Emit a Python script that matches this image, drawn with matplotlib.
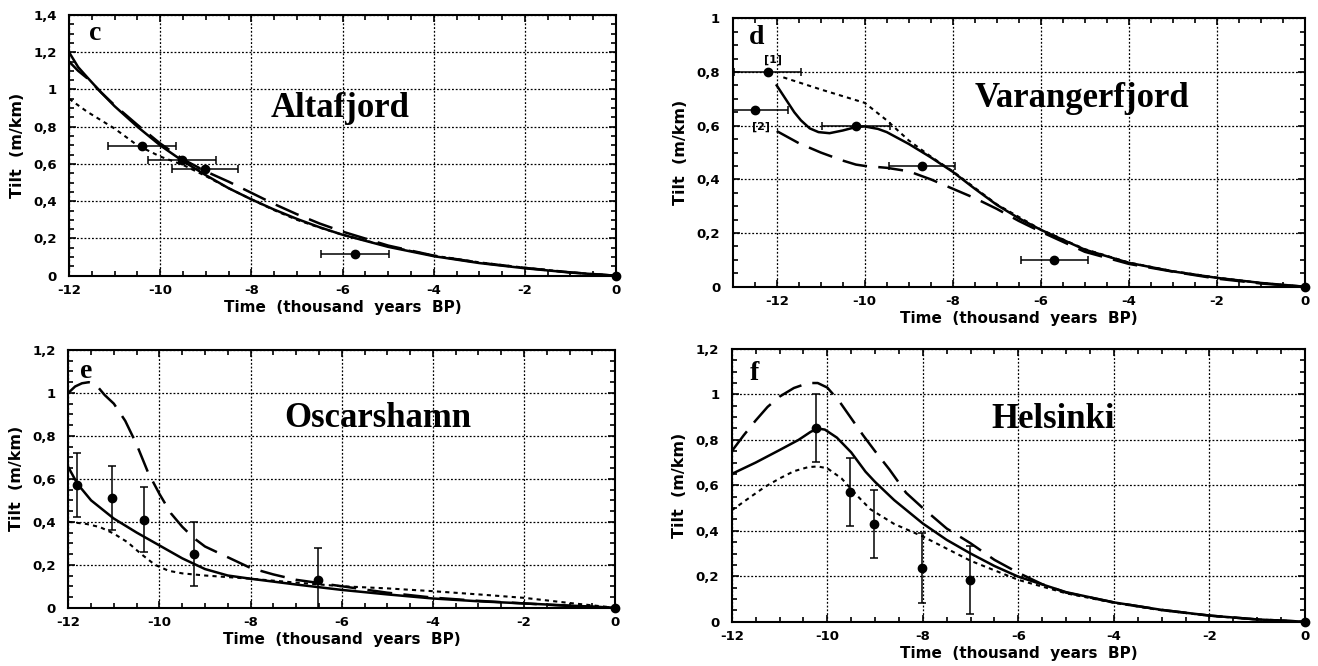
import matplotlib
matplotlib.use("Agg")
import matplotlib.pyplot as plt
from matplotlib.ticker import MultipleLocator, FuncFormatter

plt.rcParams["axes.unicode_minus"] = False

# ---------------------------------------------------------------------------
# Panel c -- Altafjord
# ---------------------------------------------------------------------------
C_T = [-12, -11.8, -11.6, -11.3, -11, -10.5, -10, -9.5, -9, -8.5, -8, -7.5,
       -7, -6.5, -6, -5, -4, -3, -2, -1, 0]
C_SOLID = [1.20, 1.12, 1.065, 0.985, 0.91, 0.80, 0.70, 0.615, 0.54, 0.47,
           0.41, 0.355, 0.305, 0.26, 0.22, 0.155, 0.105, 0.068, 0.04, 0.017, 0]
C_LONG = [1.15, 1.10, 1.06, 0.985, 0.915, 0.81, 0.71, 0.625, 0.56, 0.505,
          0.445, 0.385, 0.33, 0.28, 0.237, 0.162, 0.108, 0.07, 0.042, 0.018, 0]
C_SHORT = [0.95, 0.915, 0.88, 0.835, 0.79, 0.70, 0.64, 0.595, 0.535, 0.47,
           0.41, 0.352, 0.30, 0.258, 0.22, 0.158, 0.108, 0.072, 0.043, 0.018, 0]
C_PTS_X = [-10.4, -9.52, -9.02, -5.72]
C_PTS_Y = [0.695, 0.62, 0.571, 0.117]
C_XERR = [0.74, 0.74, 0.73, 0.75]

# ---------------------------------------------------------------------------
# Panel d -- Varangerfjord
# ---------------------------------------------------------------------------
D_SOLID_T = [-12, -11.8, -11.6, -11.45, -11.25, -11.05, -10.8, -10.5, -10.2,
             -10, -9.7, -9.5, -9, -8.5, -8, -7.5, -7, -6.5, -6, -5, -4, -3,
             -2, -1, 0]
D_SOLID = [0.75, 0.70, 0.65, 0.62, 0.59, 0.576, 0.572, 0.582, 0.595, 0.597,
           0.588, 0.576, 0.532, 0.482, 0.428, 0.365, 0.305, 0.255, 0.212,
           0.138, 0.089, 0.057, 0.033, 0.014, 0]
D_SHORT_T = [-11.85, -11, -10.5, -10, -9.5, -9, -8.5, -8, -7, -6, -5, -4, -3,
             -2, -1, 0]
D_SHORT = [0.78, 0.735, 0.71, 0.685, 0.62, 0.545, 0.485, 0.43, 0.307, 0.213,
           0.14, 0.09, 0.058, 0.034, 0.014, 0]
D_LONG_T = [-12, -11.5, -11, -10.5, -10.2, -10, -9.5, -9, -8.5, -8, -7.5, -7,
            -6.5, -6, -5, -4, -3, -2, -1, 0]
D_LONG = [0.58, 0.535, 0.50, 0.47, 0.455, 0.45, 0.443, 0.43, 0.40, 0.365,
          0.33, 0.29, 0.245, 0.205, 0.13, 0.085, 0.056, 0.03, 0.012, 0]
D_PTS_X = [-12.2, -12.5, -10.19, -8.70, -5.69]
D_PTS_Y = [0.80, 0.66, 0.60, 0.449, 0.099]
D_XERR = [0.76, 0.75, 0.77, 0.75, 0.76]

# ---------------------------------------------------------------------------
# Panel e -- Oscarshamn
# ---------------------------------------------------------------------------
E_SOLID_T = [-12, -11.8, -11.5, -11, -10.5, -10, -9.5, -9, -8.5, -8, -7, -6,
             -5, -4, -3, -2, -1, 0]
E_SOLID = [0.655, 0.577, 0.50, 0.415, 0.35, 0.29, 0.23, 0.18, 0.15, 0.135,
           0.108, 0.083, 0.062, 0.043, 0.03, 0.02, 0.01, 0]
E_SHORT_T = [-12, -11.6, -11.3, -11, -10.7, -10.4, -10.1, -9.8, -9.5, -9, -8,
             -7, -6, -5, -4, -3, -2, -1, 0]
E_SHORT = [0.40, 0.39, 0.375, 0.345, 0.305, 0.25, 0.20, 0.172, 0.16, 0.15,
           0.135, 0.117, 0.10, 0.09, 0.077, 0.062, 0.046, 0.022, 0]
E_LONG_T = [-12, -11.85, -11.7, -11.55, -11.4, -11.2, -11, -10.75, -10.5,
            -10.25, -10, -9.75, -9.5, -9.25, -9, -8.5, -8, -7.5, -7, -6, -5,
            -4, -3, -2, -1, 0]
E_LONG = [1.0, 1.03, 1.045, 1.05, 1.04, 0.99, 0.95, 0.87, 0.76, 0.63, 0.53,
          0.44, 0.377, 0.325, 0.285, 0.235, 0.185, 0.155, 0.13, 0.10, 0.07,
          0.047, 0.032, 0.02, 0.008, 0]
E_PTS_X = [-11.81, -11.03, -10.33, -9.24, -6.53]
E_PTS_Y = [0.572, 0.51, 0.41, 0.25, 0.13]
E_YERR = [0.15, 0.15, 0.15, 0.15, 0.15]

# ---------------------------------------------------------------------------
# Panel f -- Helsinki
# ---------------------------------------------------------------------------
F_SOLID_T = [-12, -11.5, -11, -10.6, -10.35, -10.2, -10.05, -9.8, -9.5, -9.2,
             -9, -8.6, -8, -7.5, -7, -6.5, -6, -5, -4, -3, -2, -1, 0]
F_SOLID = [0.65, 0.70, 0.755, 0.80, 0.835, 0.85, 0.845, 0.81, 0.745, 0.66,
           0.615, 0.535, 0.432, 0.36, 0.30, 0.245, 0.198, 0.13, 0.085, 0.052,
           0.027, 0.01, 0]
F_SHORT_T = [-12, -11.6, -11.3, -11, -10.7, -10.4, -10.2, -10, -9.7, -9.4,
             -9.1, -8.6, -8, -7, -6, -5, -4, -3, -2, -1, 0]
F_SHORT = [0.49, 0.55, 0.594, 0.63, 0.662, 0.68, 0.683, 0.675, 0.63, 0.56,
           0.495, 0.43, 0.375, 0.268, 0.184, 0.125, 0.083, 0.05, 0.026, 0.01, 0]
F_LONG_T = [-12, -11.75, -11.5, -11.25, -11, -10.7, -10.4, -10.2, -10, -9.75,
            -9.5, -9.25, -9, -8.7, -8.35, -8, -7.5, -7, -6.5, -6, -5.5, -5,
            -4, -3, -2, -1, 0]
F_LONG = [0.75, 0.82, 0.885, 0.945, 0.99, 1.028, 1.05, 1.05, 1.03, 0.97,
          0.895, 0.82, 0.75, 0.67, 0.567, 0.50, 0.41, 0.345, 0.272, 0.215,
          0.165, 0.128, 0.085, 0.052, 0.027, 0.01, 0]
F_PTS_X = [-10.23, -9.52, -9.02, -8.01, -7.01]
F_PTS_Y = [0.851, 0.571, 0.429, 0.237, 0.184]
F_YERR = [0.15, 0.15, 0.15, 0.155, 0.15]

SANS = "DejaVu Sans"
SERIF = "Liberation Serif"


def comma_fmt(v, pos):
    s = f"{v:.1f}".rstrip("0").rstrip(".")
    return s.replace(".", ",")


def style_axes(ax, xmin, ymax):
    ax.set_xlim(xmin, 0)
    ax.set_ylim(0, ymax)
    ax.xaxis.set_major_locator(MultipleLocator(2))
    ax.xaxis.set_minor_locator(MultipleLocator(0.5))
    ax.yaxis.set_major_locator(MultipleLocator(0.2))
    ax.yaxis.set_minor_locator(MultipleLocator(0.05))
    ax.yaxis.set_major_formatter(FuncFormatter(comma_fmt))
    ax.tick_params(which="both", direction="in", top=True, right=True,
                   width=1.2, labelsize=9.5)
    ax.tick_params(which="major", length=5)
    ax.tick_params(which="minor", length=3.5)
    ax.tick_params(axis="x", which="major", pad=6)
    ax.tick_params(axis="y", which="major", pad=9)
    for lab in ax.get_xticklabels() + ax.get_yticklabels():
        lab.set_fontweight("bold")
        lab.set_fontfamily(SANS)
    for sp in ax.spines.values():
        sp.set_linewidth(1.5)
    ax.grid(which="major", color="black", ls=(0, (1.5, 1.5)), lw=0.9)
    ax.set_xlabel("Time  (thousand  years  BP)", fontsize=11,
                  fontweight="bold", family=SANS, labelpad=2)
    ax.set_ylabel("Tilt  (m/km)", fontsize=11.5, fontweight="bold",
                  family=SANS, labelpad=6)


def draw_curves(ax, solid, short, long_):
    ax.plot(*solid, color="black", lw=1.8, zorder=3)
    ax.plot(*short, color="black", lw=1.5, ls=(0, (2, 2)), zorder=3)
    ax.plot(*long_, color="black", lw=1.8, ls=(0, (10, 4.5)), zorder=3)
    ax.plot([0], [0], "o", color="black", ms=6, clip_on=False, zorder=5)


def labels(ax, letter, name, lpos, npos):
    ax.text(*lpos, letter, transform=ax.transAxes, fontsize=20,
            fontweight="bold", family=SERIF, ha="center", va="center")
    ax.text(*npos, name, transform=ax.transAxes, fontsize=25,
            fontweight="bold", family=SERIF, ha="center", va="center")


fig = plt.figure(figsize=(13.18, 6.66), dpi=100)
ax_c = fig.add_axes([0.0524, 0.586, 0.415, 0.3915])
ax_d = fig.add_axes([0.5559, 0.5695, 0.4342, 0.403])
ax_e = fig.add_axes([0.0518, 0.0875, 0.415, 0.387])
ax_f = fig.add_axes([0.5552, 0.0665, 0.4349, 0.4096])

err_kw = dict(fmt="o", color="black", ms=6, elinewidth=1.1, capsize=3,
              capthick=1.1, zorder=4)

# c
draw_curves(ax_c, (C_T, C_SOLID), (C_T, C_SHORT), (C_T, C_LONG))
ax_c.errorbar(C_PTS_X, C_PTS_Y, xerr=C_XERR, **err_kw)
style_axes(ax_c, -12, 1.4)
labels(ax_c, "c", "Altafjord", (0.047, 0.93), (0.495, 0.643))

# d
draw_curves(ax_d, (D_SOLID_T, D_SOLID), (D_SHORT_T, D_SHORT),
            (D_LONG_T, D_LONG))
ax_d.errorbar(D_PTS_X, D_PTS_Y, xerr=D_XERR, **err_kw)
ax_d.text(-12.08, 0.845, "[1]", fontsize=8, fontweight="bold", family=SANS,
          ha="center", va="center")
ax_d.text(-12.36, 0.595, "[2]", fontsize=8, fontweight="bold", family=SANS,
          ha="center", va="center")
style_axes(ax_d, -13, 1.0)
labels(ax_d, "d", "Varangerfjord", (0.042, 0.93), (0.61, 0.70))

# e
draw_curves(ax_e, (E_SOLID_T, E_SOLID), (E_SHORT_T, E_SHORT),
            (E_LONG_T, E_LONG))
ax_e.errorbar(E_PTS_X, E_PTS_Y, yerr=E_YERR, **err_kw)
style_axes(ax_e, -12, 1.2)
labels(ax_e, "e", "Oscarshamn", (0.032, 0.915), (0.565, 0.735))

# f
draw_curves(ax_f, (F_SOLID_T, F_SOLID), (F_SHORT_T, F_SHORT),
            (F_LONG_T, F_LONG))
ax_f.errorbar(F_PTS_X, F_PTS_Y, yerr=F_YERR, **err_kw)
style_axes(ax_f, -12, 1.2)
labels(ax_f, "f", "Helsinki", (0.04, 0.91), (0.56, 0.74))

fig.savefig("out.png", dpi=100)
